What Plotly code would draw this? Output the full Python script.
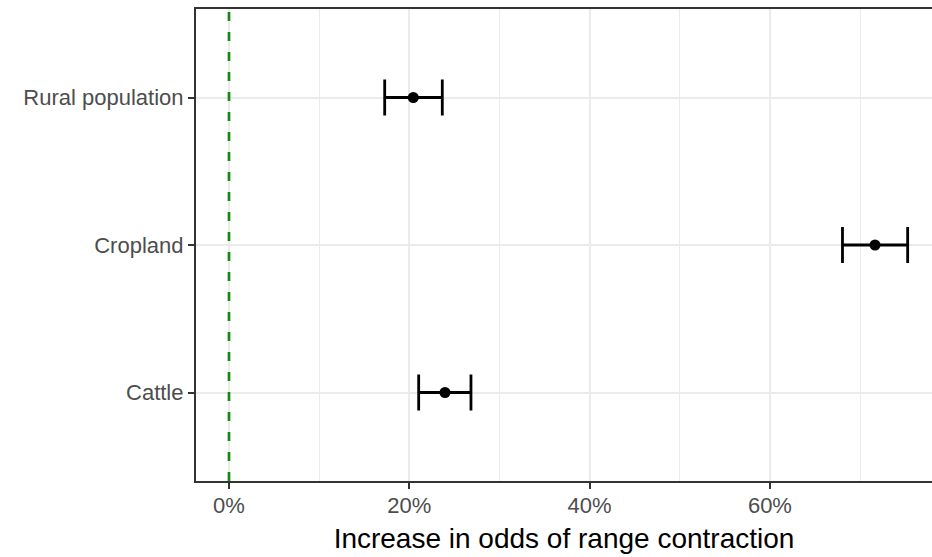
import plotly.graph_objects as go

categories = ["Cattle", "Cropland", "Rural population"]
estimate = [23.96, 71.66, 20.44]
lower = [21.04, 68.05, 17.27]
upper = [26.84, 75.28, 23.66]
x_ticks = [0, 20, 40, 60]
x_tick_labels = ["0%", "20%", "40%", "60%"]

err_plus = [u - e for u, e in zip(upper, estimate)]
err_minus = [e - l for e, l in zip(estimate, lower)]

fig = go.Figure()

fig.add_trace(go.Scatter(
    x=estimate, y=categories, mode="markers",
    marker=dict(color="black", size=11),
    error_x=dict(type="data", symmetric=False, array=err_plus, arrayminus=err_minus,
                 color="black", thickness=2.8, width=18),
    showlegend=False, hoverinfo="skip",
))

fig.add_shape(type="line", xref="x", yref="paper", x0=0, x1=0, y0=0, y1=1,
              line=dict(color="#108a10", width=2.7, dash="9px,11px"), layer="above")

fig.update_layout(
    width=932, height=557,
    margin=dict(l=196, r=0, t=9, b=76),
    paper_bgcolor="white", plot_bgcolor="white",
    font=dict(family="Liberation Sans, Arial, sans-serif"),
    xaxis=dict(
        range=[-3.66, 77.98],
        tickvals=x_ticks, ticktext=x_tick_labels,
        showgrid=True, gridcolor="#EBEBEB", gridwidth=2,
        minor=dict(dtick=10, tick0=0, showgrid=True, gridcolor="#EBEBEB", gridwidth=1.1, ticks=""),
        showline=True, linecolor="#333333", linewidth=2.2, mirror=True,
        ticks="outside", ticklen=6, tickcolor="#333333", tickwidth=2,
        ticklabelstandoff=-3,
        tickfont=dict(size=22, color="#4D4D4D"),
        title=dict(text="Increase in odds of range contraction", font=dict(size=28, color="black"), standoff=12),
        zeroline=False,
    ),
    yaxis=dict(
        type="category", categoryorder="array", categoryarray=categories,
        range=[-0.6, 2.6],
        showgrid=True, gridcolor="#EBEBEB", gridwidth=2,
        showline=True, linecolor="#333333", linewidth=2.2, mirror=False,
        ticks="outside", ticklen=6, tickcolor="#333333", tickwidth=2,
        tickfont=dict(size=22, color="#4D4D4D"),
        zeroline=False,
    ),
)

fig.write_html("out.html", config={"displayModeBar": False},
               post_script="document.body.style.margin='0';")
